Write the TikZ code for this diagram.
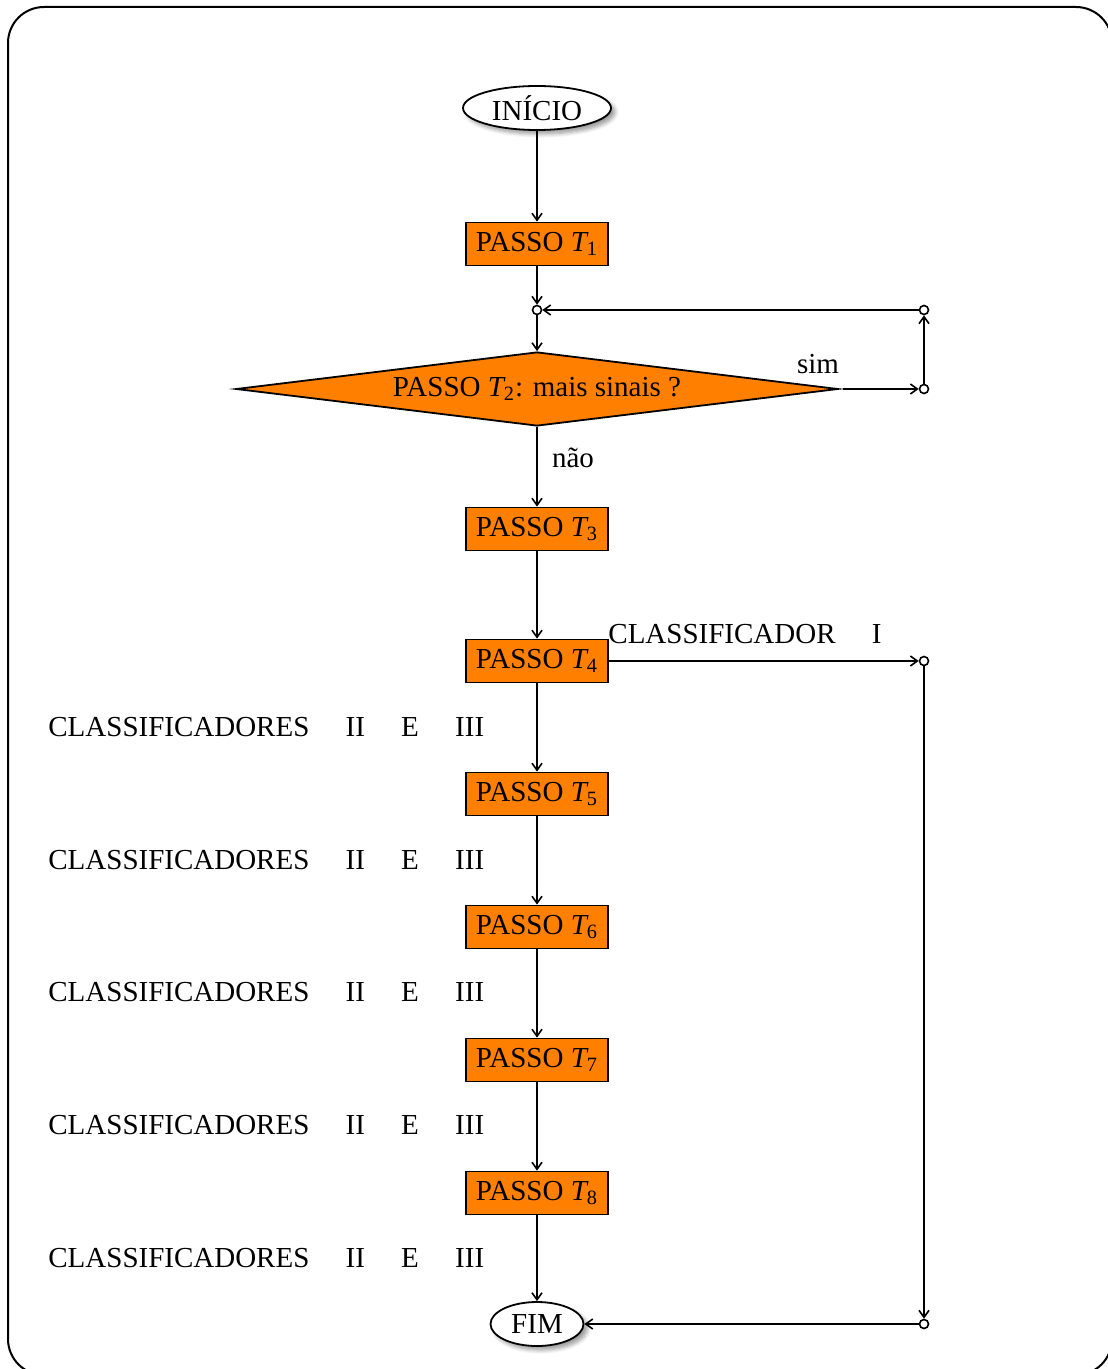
\documentclass[tikz,border=0pt]{standalone}
\usepackage{fontspec}
\setmainfont{Liberation Serif}
\usetikzlibrary{shapes.geometric,shadows.blur,arrows.meta}
\definecolor{passo}{RGB}{255,128,0}
\begin{document}
\begin{tikzpicture}[x=0.5pt,y=-0.5pt,
  every node/.style={font=\fontsize{14.5}{17}\selectfont},
  passobox/.style={draw, line width=0.9pt, fill=passo, minimum width=71pt, minimum height=21.5pt, inner sep=0pt},
  term/.style={draw, ellipse, line width=0.9pt, fill=white, inner sep=0pt, minimum height=22pt,
    blur shadow={shadow xshift=2pt, shadow yshift=-2pt, shadow blur steps=6, shadow blur radius=2pt}},
  junc/.style={draw, circle, line width=0.8pt, fill=white, minimum size=4.5pt, inner sep=0pt},
  conn/.style={line width=0.8pt, -{Straight Barb[length=3.5pt,width=5pt,line width=0.8pt]}},
  lbl/.style={inner sep=0pt}
]
\useasboundingbox (0,0) rectangle (1107,1369);
\draw[line width=1pt, rounded corners=18pt] (8,7) rectangle (1112,1375);

\node[term, minimum width=74pt] (ini) at (537,108) {INÍCIO};
\node[passobox] (t1) at (537,244) {PASSO {\itshape T}\textsubscript{1}};
\node[junc] (j1) at (537,310) {};
\node[junc] (j2) at (924,310) {};
\node[junc] (j3) at (924,389) {};
\node[draw, diamond, line width=0.9pt, fill=passo, aspect=8, inner sep=0pt,
  minimum width=301pt, minimum height=37pt] (d) at (537,389) {PASSO {\itshape T}\textsubscript{2}: mais sinais ?};
\node[lbl] (sim) at (818,364) {sim};
\node[lbl] (nao) at (573,458) {não};
\node[passobox] (t3) at (537,529) {PASSO {\itshape T}\textsubscript{3}};
\node[passobox] (t4) at (537,661) {PASSO {\itshape T}\textsubscript{4}};
\node[lbl, anchor=west] (c1) at (608,634) {CLASSIFICADOR \quad I};
\node[junc] (j4) at (924,661) {};
\node[passobox] (t5) at (537,794) {PASSO {\itshape T}\textsubscript{5}};
\node[passobox] (t6) at (537,927) {PASSO {\itshape T}\textsubscript{6}};
\node[passobox] (t7) at (537,1060) {PASSO {\itshape T}\textsubscript{7}};
\node[passobox] (t8) at (537,1193) {PASSO {\itshape T}\textsubscript{8}};
\node[term, minimum width=46.5pt] (fim) at (537,1324) {FIM};
\node[junc] (j5) at (924,1324) {};

\foreach \y/\n in {727/a,860/b,992/c,1125/d,1258/e}
  \node[lbl, anchor=west] (cl\n) at (48,\y) {CLASSIFICADORES \quad II \quad E \quad III};

\draw[conn] (ini) -- (t1);
\draw[conn] (t1) -- (j1);
\draw[conn] (j1) -- (d.north);
\draw[conn, shorten <=2pt] (d.east) -- (j3);
\draw[conn] (j3) -- (j2);
\draw[conn] (j2) -- (j1);
\draw[conn] (d.south) -- (t3);
\draw[conn] (t3) -- (t4);
\draw[conn] (t4) -- (j4);
\draw[conn] (j4) -- (j5);
\draw[conn] (j5) -- (fim);
\draw[conn] (t4) -- (t5);
\draw[conn] (t5) -- (t6);
\draw[conn] (t6) -- (t7);
\draw[conn] (t7) -- (t8);
\draw[conn] (t8) -- (fim);
\end{tikzpicture}
\end{document}
